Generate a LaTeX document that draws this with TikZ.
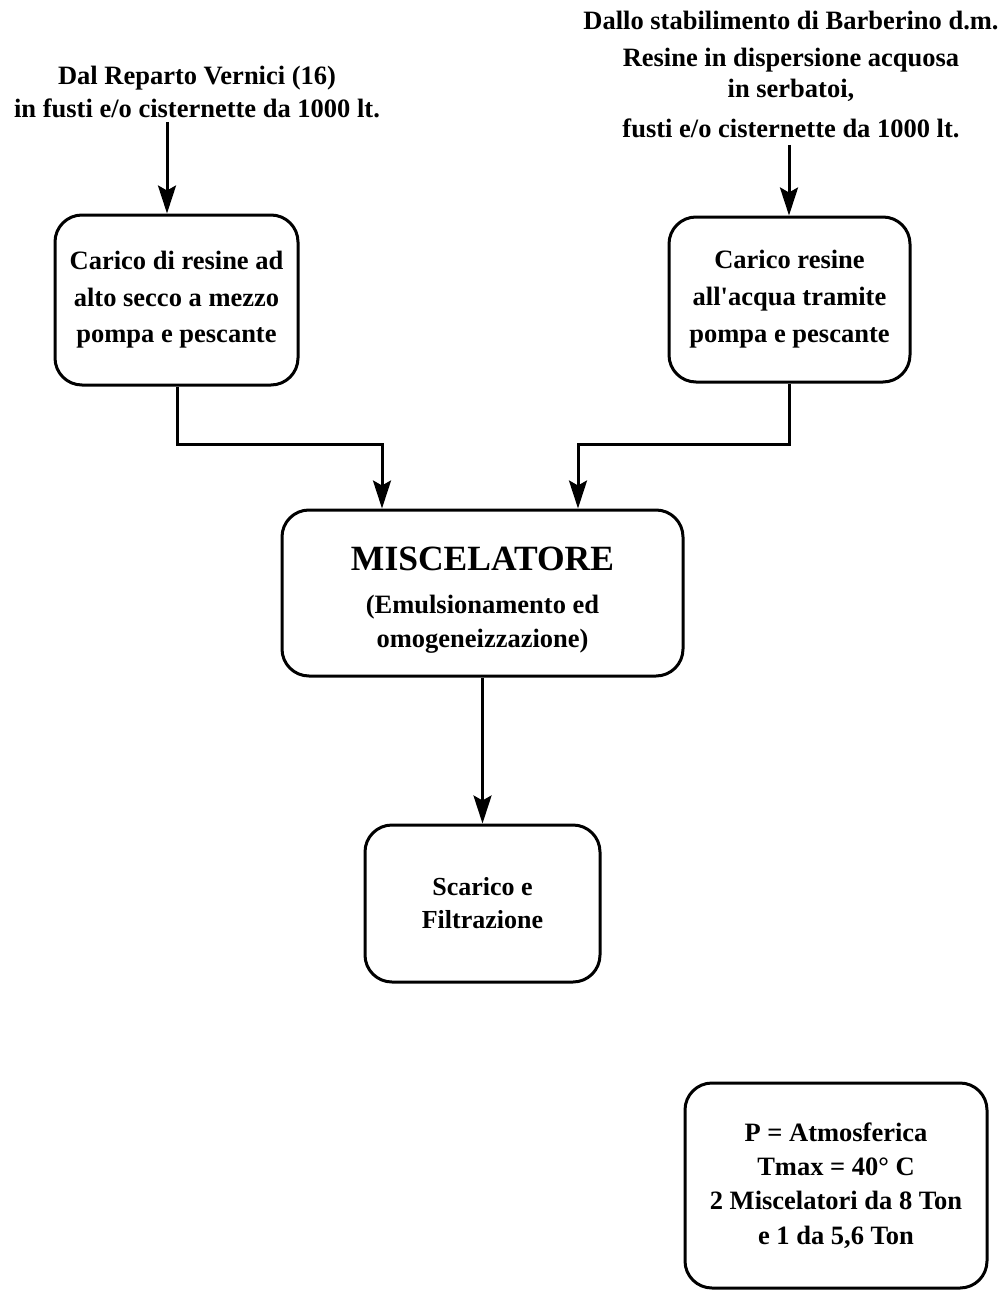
\documentclass[tikz,border=0pt]{standalone}
\usepackage{fontspec}
\setmainfont{Liberation Serif}
\usetikzlibrary{arrows.meta}

\tikzset{
  flowbox/.style={draw, line width=3pt, rounded corners=27pt, align=center,
                  font=\bfseries\fontsize{26.5}{36.5}\selectfont, inner sep=0pt},
  srctext/.style={align=center, font=\bfseries\fontsize{26.5}{33}\selectfont, inner sep=0pt},
  flow/.style={line width=3pt, -{Stealth[length=28pt,width=18pt,inset=5pt]}}
}

\begin{document}
\begin{tikzpicture}[x=1pt,y=-1pt]
  \useasboundingbox (0,0) rectangle (1001,1292);

  % sources
  \node[srctext] (srcL) at (197,92) {Dal Reparto Vernici (16)\\in fusti e/o cisternette da 1000 lt.};
  \node[srctext, font=\bfseries\fontsize{26.5}{31}\selectfont] (srcR) at (791,74)
    {Dallo stabilimento di Barberino d.m.\\[6pt]Resine in dispersione acquosa\\in serbatoi,\\[9pt]fusti e/o cisternette da 1000 lt.};

  % loading steps
  \node[flowbox, minimum width=243pt, minimum height=170pt] (loadL) at (176.5,300)
    {Carico di resine ad\\alto secco a mezzo\\pompa e pescante};
  \node[flowbox, font=\bfseries\fontsize{26.5}{37}\selectfont, minimum width=241pt, minimum height=165pt] (loadR) at (789.5,299.5)
    {Carico resine\\all\textquotesingle acqua tramite\\pompa e pescante};

  % mixer
  \node[flowbox, font=\bfseries\fontsize{26.5}{34}\selectfont, minimum width=401pt, minimum height=166pt] (mix) at (482.5,593)
    {\rule{0pt}{37pt}{\fontsize{35.5}{35.5}\selectfont MISCELATORE}\\[9pt](Emulsionamento ed\\omogeneizzazione)};

  % discharge
  \node[flowbox, font=\bfseries\fontsize{26}{33}\selectfont, minimum width=235pt, minimum height=157pt] (out) at (482.5,903.5)
    {Scarico e\\Filtrazione};

  % operating conditions
  \node[flowbox, font=\bfseries\fontsize{26.5}{34.3}\selectfont, minimum width=302pt, minimum height=205pt] (cond) at (836,1185.5)
    {P = Atmosferica\\Tmax = 40° C\\2 Miscelatori da 8 Ton\\e 1 da 5,6 Ton};

  % connectors
  \coordinate (aL) at (167,122);
  \coordinate (aR) at (789,145);
  \draw[flow] (aL) -- (aL |- loadL.north);
  \draw[flow] (aR) -- (aR |- loadR.north);

  \coordinate (jL) at (177,444);
  \coordinate (jR) at (789,444);
  \coordinate (inL) at (382,444);
  \coordinate (inR) at (578,444);
  \draw[flow] (jL |- loadL.south) -- (jL) -- (inL) -- (inL |- mix.north);
  \draw[flow] (jR |- loadR.south) -- (jR) -- (inR) -- (inR |- mix.north);

  \draw[flow] (mix.south) -- (out.north);
\end{tikzpicture}
\end{document}
